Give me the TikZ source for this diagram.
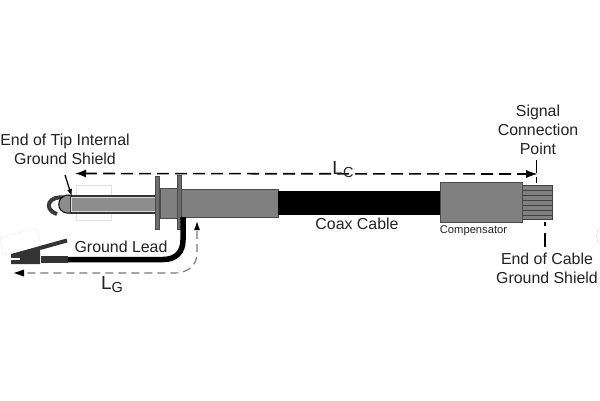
\documentclass[tikz,border=0pt]{standalone}
\usepackage{fontspec}
\setmainfont{Liberation Sans}
\usetikzlibrary{arrows.meta}
\definecolor{bodygray}{HTML}{808080}
\definecolor{edgegray}{HTML}{4A4A4A}
\definecolor{tipgray}{HTML}{8C8C8C}
\definecolor{faint}{HTML}{E2E2E2}
\definecolor{dashgray}{HTML}{777777}
\definecolor{textgray}{HTML}{222222}
\tikzset{
  label14/.style={font=\fontsize{15.9}{19.3}\selectfont,text=textgray,align=center,inner sep=0pt},
  part/.style={fill=bodygray,draw=edgegray,line width=1pt},
  flange/.style={fill=bodygray!85!black,draw=edgegray,line width=0.8pt},
  dimline/.style={line width=1.6pt,dash pattern=on 12pt off 6pt},
  dimhead/.style={-{Latex[length=11pt,width=8pt]}},
}
\begin{document}
\begin{tikzpicture}[x=1pt,y=-1pt]
\useasboundingbox (0,0) rectangle (600,400);
% faint ghost outlines
\draw[faint,line width=0.8pt] (76,185) rectangle (111,220);
\draw[faint,line width=0.8pt,densely dotted] (0,238) -- (36,228) -- (41,245);
\draw[faint,line width=0.8pt,densely dotted] (0,238) -- (3,255) -- (11,253);
\draw[faint,line width=0.8pt] (599,229) .. controls (596,232) and (596,240) .. (599,243);
% hook
\draw[edgegray!80!black,line width=4pt] (66,198) .. controls (49,194) and (42,209) .. (57,214);
% tip
\fill[tipgray] (70,195) -- (70,213) -- (67,213) .. controls (56,212) and (56,197) .. (67,195) -- cycle;
\draw[black,line width=1pt] (70,195) -- (67,195) .. controls (56,197) and (56,212) .. (67,213) -- (70,213);
\fill[black!80] (70,194.5) rectangle (156,213.5);
\draw[draw=white!85!black,fill=bodygray!90!white,line width=1pt] (71,197) rectangle (155,211);
% body and flanges
\draw[part] (160,188) rectangle (177,218);
\draw[flange] (155.5,176) rectangle (159.5,229);
\draw[part] (181,189) rectangle (278,217);
\draw[flange] (177.5,175) rectangle (181,229);
% coax
\fill[black] (278,191) rectangle (440,215);
% compensator
\draw[part] (440.5,182) rectangle (522.5,222);
% braid
\fill[bodygray] (523,185) rectangle (552,219);
\foreach \yy in {190,195,200,205,210,215}
  \draw[black!75,line width=0.9pt] (523,\yy) -- (552,\yy);
\draw[black!75,line width=0.9pt] (523,185) -- (552,185) -- (552,219) -- (523,219);
% ground lead
\draw[black,line width=5.5pt] (68,259.5) -- (163,259.5) .. controls (176,259.5) and (183,252) .. (183,240) -- (183,217);
% clip
\fill[black!80] (11,254) -- (40,246) -- (40,264) -- (11,264) -- cycle;
\fill[white] (11,258) rectangle (20,260);
\draw[black!80,line width=4pt] (40,248) -- (67,240.5);
\fill[black!80] (41,256) rectangle (68,263);
% dimension LC
\coordinate (lcL) at (75,173.5);
\coordinate (lcR) at (537,174);
\draw[dimline,dimhead,black] (lcR) ++(-8,0) -- (lcL);
\draw[black,-{Latex[length=11pt,width=8pt]}] (525,174) -- (lcR);
\draw[black,line width=1.2pt] (536.5,160) -- (536.5,173);
\draw[black,line width=1.2pt] (536.5,177) -- (536.5,183);
% cable shield leader
\draw[black,line width=1.2pt] (545,222) -- (545,226);
\draw[black,line width=1.2pt] (545,233) -- (545,247);
% tip leader
\coordinate (ta) at (65,175);
\coordinate (tb) at (72,197);
\draw[black,line width=1.2pt,-{Latex[length=8pt,width=5pt]}] (ta) -- (tb);
% dimension LG
\coordinate (lgL) at (14,273);
\coordinate (lgR) at (197,221);
\draw[black,line width=1.1pt,-{Latex[length=9pt,width=6pt]}] (197,230) -- (lgR);
\draw[dashgray,line width=1.1pt,dash pattern=on 8pt off 5pt] (197,231) -- (197,255) .. controls (196,266) and (187,273) .. (175,273) -- (24,273);
\fill[black] (lgL) -- (24,269.5) -- (24,276.5) -- cycle;
% labels
\node[label14] (tiptext) at (65,149.5) {End of Tip Internal\\Ground Shield};
\node[label14] (signal) at (538,130) {Signal\\Connection\\Point};
\node[label14] (cableend) at (547,268) {End of Cable\\Ground Shield};
\node[label14] (coax) at (357,224) {Coax Cable};
\node[label14] (lead) at (121,247) {Ground Lead};
\node[text=textgray,inner sep=0pt,font=\fontsize{11.2}{14}\selectfont] (comp) at (473.5,231) {Compensator};
\node[text=textgray,inner sep=0pt,font=\fontsize{19}{22}\selectfont] (lc) at (343,170) {L\raisebox{-3pt}{\fontsize{14.5}{16}\selectfont C}};
\node[text=textgray,inner sep=0pt,font=\fontsize{19}{22}\selectfont] (lg) at (112,285) {L\raisebox{-3pt}{\fontsize{14.5}{16}\selectfont G}};
\end{tikzpicture}
\end{document}
